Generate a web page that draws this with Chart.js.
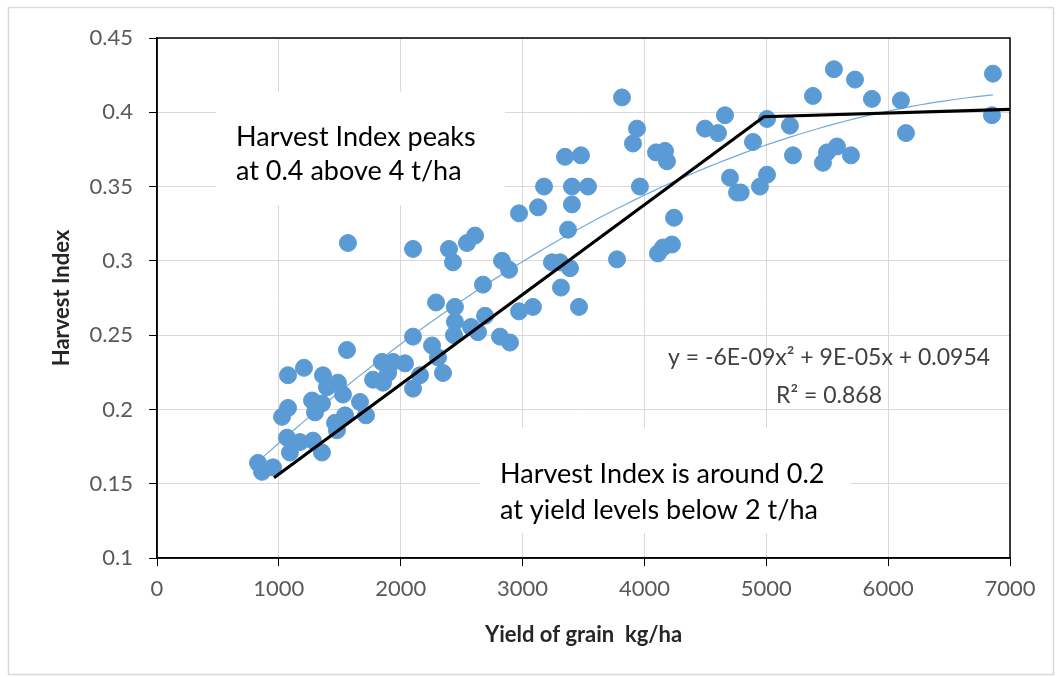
<!DOCTYPE html>
<html>
<head>
<meta charset="utf-8">
<title>Harvest Index vs Yield of grain</title>
<script src="https://cdn.jsdelivr.net/npm/chart.js@4.4.1/dist/chart.umd.min.js"></script>
<style>
  html, body { margin: 0; padding: 0; background: #ffffff; }
  #wrap { width: 1061px; height: 677px; }
</style>
</head>
<body>
<div id="wrap"><canvas id="hiChart" width="1061" height="677"></canvas></div>
<script>
// Grain yield (kg/ha) and harvest index of each plot
const yieldKg = [
  829, 862, 952, 1067, 1091, 1173, 1280, 1354, 1026, 1075,
  1075, 1206, 1272, 1297, 1354, 1362, 1395, 1485, 1526, 1543,
  1461, 1477, 1559, 1567, 1666, 1715, 1773, 1855, 1896, 1846,
  1937, 2035, 2101, 2158, 2101, 2101, 2257, 2306, 2347, 2290,
  2396, 2429, 2445, 2445, 2437, 2544, 2610, 2577, 2634, 2675,
  2692, 2831, 2889, 2815, 2897, 2971, 2971, 3085, 3127, 3176,
  3241, 3307, 3315, 3389, 3373, 3405, 3405, 3348, 3479, 3537,
  3463, 3775, 3816, 3906, 3939, 3963, 4095, 4169, 4185, 4111,
  4226, 4152, 4243, 4497, 4604, 4661, 4891, 4702, 4760, 4790,
  4948, 5006, 5006, 5194, 5219, 5383, 5465, 5498, 5580, 5555,
  5695, 5728, 5867, 6105, 6146, 6860, 6852
];
const harvestIndex = [
  0.164, 0.158, 0.161, 0.181, 0.171, 0.178, 0.179, 0.171, 0.195, 0.201,
  0.223, 0.228, 0.206, 0.198, 0.204, 0.223, 0.215, 0.218, 0.210, 0.196,
  0.191, 0.186, 0.240, 0.312, 0.205, 0.196, 0.220, 0.218, 0.2245, 0.232,
  0.232, 0.231, 0.214, 0.223, 0.249, 0.308, 0.243, 0.235, 0.2245, 0.272,
  0.308, 0.299, 0.269, 0.259, 0.250, 0.312, 0.317, 0.2555, 0.252, 0.284,
  0.263, 0.300, 0.294, 0.249, 0.245, 0.332, 0.266, 0.269, 0.336, 0.350,
  0.299, 0.299, 0.282, 0.295, 0.321, 0.338, 0.350, 0.370, 0.371, 0.350,
  0.269, 0.301, 0.410, 0.379, 0.389, 0.350, 0.373, 0.374, 0.367, 0.305,
  0.311, 0.309, 0.329, 0.389, 0.386, 0.398, 0.380, 0.356, 0.346, 0.346,
  0.350, 0.358, 0.3955, 0.391, 0.371, 0.411, 0.366, 0.373, 0.377, 0.429,
  0.371, 0.422, 0.409, 0.408, 0.386, 0.426, 0.398
];

// Hand-drawn broken line: rise to the plateau, then flat
const peakLineX = [960, 4980, 7000];
const peakLineY = [0.154, 0.397, 0.402];

// Axis ticks
const xTickValues = [0, 1000, 2000, 3000, 4000, 5000, 6000, 7000];
const xTickLabels = ['0', '1000', '2000', '3000', '4000', '5000', '6000', '7000'];
const yTickValues = [0.1, 0.15, 0.2, 0.25, 0.3, 0.35, 0.4, 0.45];
const yTickLabels = ['0.1', '0.15', '0.2', '0.25', '0.3', '0.35', '0.4', '0.45'];

// Text blocks
const noteTop = ['Harvest Index peaks', 'at 0.4 above 4 t/ha'];
const noteBottom = ['Harvest Index is around 0.2', 'at yield levels below 2 t/ha'];
const equationText = ['y = -6E-09x\u00B2 + 9E-05x + 0.0954', 'R\u00B2 = 0.868'];

// Least-squares quadratic fit y = a x^2 + b x + c
function quadraticFit(xs, ys) {
  let s0 = xs.length, s1 = 0, s2 = 0, s3 = 0, s4 = 0, t0 = 0, t1 = 0, t2 = 0;
  for (let i = 0; i < xs.length; i++) {
    const x = xs[i] / 1000, y = ys[i];
    s1 += x; s2 += x * x; s3 += x * x * x; s4 += x * x * x * x;
    t0 += y; t1 += x * y; t2 += x * x * y;
  }
  const M = [[s4, s3, s2, t2], [s3, s2, s1, t1], [s2, s1, s0, t0]];
  for (let c = 0; c < 3; c++) {
    for (let r = c + 1; r < 3; r++) {
      const f = M[r][c] / M[c][c];
      for (let k = c; k < 4; k++) M[r][k] -= f * M[c][k];
    }
  }
  const sol = [0, 0, 0];
  for (let r = 2; r >= 0; r--) {
    let v = M[r][3];
    for (let k = r + 1; k < 3; k++) v -= M[r][k] * sol[k];
    sol[r] = v / M[r][r];
  }
  // convert back from kg/1000 scaling
  return { a: sol[0] / 1e6, b: sol[1] / 1e3, c: sol[2] };
}

const fit = quadraticFit(yieldKg, harvestIndex);
const xMin = Math.min(...yieldKg), xMax = Math.max(...yieldKg);
const trendPoints = [];
const steps = 80;
for (let i = 0; i <= steps; i++) {
  const x = xMin + (xMax - xMin) * i / steps;
  trendPoints.push({ x: x, y: fit.a * x * x + fit.b * x + fit.c });
}

const scatterPoints = yieldKg.map((x, i) => ({ x: x, y: harvestIndex[i] }));
const peakPoints = peakLineX.map((x, i) => ({ x: x, y: peakLineY[i] }));

const FONT = 'Lato, "Open Sans", "DejaVu Sans", sans-serif';

// White page with a thin grey frame round the whole chart
const pageFrame = {
  id: 'pageFrame',
  beforeDraw(chart) {
    const c = chart.ctx;
    c.save();
    c.fillStyle = '#ffffff';
    c.fillRect(0, 0, chart.width, chart.height);
    c.strokeStyle = '#d9d9d9';
    c.lineWidth = 1.5;
    c.strokeRect(8.5, 7.5, 1045, 667);
    c.restore();
  }
};

// Text notes on white boxes, equation text and the black plot frame
const notes = {
  id: 'notes',
  beforeDatasetsDraw(chart) {
    const c = chart.ctx;
    const a = chart.chartArea;
    c.save();
    // note boxes hide the grid behind them
    c.fillStyle = '#ffffff';
    c.fillRect(a.left + 59, a.top + 54, 289, 113);
    c.fillRect(a.left + 323, a.top + 390, 371, 105);

    c.fillStyle = '#000000';
    c.font = '27px ' + FONT;
    c.textAlign = 'left';
    c.textBaseline = 'alphabetic';
    c.fillText(noteTop[0], a.left + 79, a.top + 108);
    c.fillText(noteTop[1], a.left + 79, a.top + 142);
    c.fillText(noteBottom[0], a.left + 343, a.top + 445);
    c.fillText(noteBottom[1], a.left + 343, a.top + 481);

    c.fillStyle = '#404040';
    c.font = '23px ' + FONT;
    c.textAlign = 'center';
    c.fillText(equationText[0], a.left + 672, a.top + 327);
    c.fillText(equationText[1], a.left + 672, a.top + 365);

    // black frame round the plot area
    c.strokeStyle = '#000000';
    c.lineWidth = 1.5;
    c.strokeRect(a.left, a.top, a.right - a.left, a.bottom - a.top);
    c.restore();
  }
};

function drawChart() {
  const ctx = document.getElementById('hiChart');
  new Chart(ctx, {
    type: 'scatter',
    data: {
      datasets: [
        {
          label: 'Harvest Index',
          data: scatterPoints,
          backgroundColor: '#5b9bd5',
          borderColor: '#5b9bd5',
          borderWidth: 1,
          pointRadius: 8.5,
          pointHoverRadius: 8.5,
          order: 3
        },
        {
          type: 'line',
          label: 'Poly. trend',
          data: trendPoints,
          borderColor: 'rgba(91,155,213,0.85)',
          borderWidth: 1.2,
          pointRadius: 0,
          fill: false,
          tension: 0,
          order: 2
        },
        {
          type: 'line',
          label: 'Peak line',
          data: peakPoints,
          borderColor: '#000000',
          borderWidth: 3.2,
          pointRadius: 0,
          fill: false,
          tension: 0,
          clip: false,
          order: 1
        }
      ]
    },
    options: {
      responsive: false,
      animation: false,
      devicePixelRatio: 1,
      layout: { padding: { left: 0, top: 38, right: 51, bottom: 0 } },
      plugins: {
        legend: { display: false },
        tooltip: { enabled: false }
      },
      scales: {
        x: {
          type: 'linear',
          min: 0,
          max: 7000,
          afterBuildTicks(scale) { scale.ticks = xTickValues.map(v => ({ value: v })); },
          afterFit(scale) { scale.height = 119; },
          ticks: {
            autoSkip: false,
            maxRotation: 0,
            color: '#595959',
            padding: 10,
            font: { family: FONT, size: 22 },
            callback: (v, i) => xTickLabels[i]
          },
          grid: { color: '#d9d9d9', lineWidth: 1, tickColor: '#000000', tickLength: 8 },
          border: { color: '#000000', width: 1.5 },
          title: {
            display: true,
            text: 'Yield of grain  kg/ha',
            color: '#262626',
            font: { family: FONT, size: 22, weight: 'bold' },
            padding: { top: 0, bottom: 29 }
          }
        },
        y: {
          type: 'linear',
          min: 0.1,
          max: 0.45,
          afterBuildTicks(scale) { scale.ticks = yTickValues.map(v => ({ value: v })); },
          afterFit(scale) { scale.width = 157; },
          ticks: {
            autoSkip: false,
            color: '#595959',
            padding: 16,
            font: { family: FONT, size: 22 },
            callback: (v, i) => yTickLabels[i]
          },
          grid: { color: '#d9d9d9', lineWidth: 1, tickColor: '#000000', tickLength: 8 },
          border: { color: '#000000', width: 1.5 },
          title: {
            display: true,
            text: 'Harvest Index',
            color: '#262626',
            font: { family: FONT, size: 22, weight: 'bold' },
            padding: { top: 49, bottom: 0 }
          }
        }
      }
    },
    plugins: [pageFrame, notes]
  });
}

Promise.all([
  document.fonts.load('22px Lato'),
  document.fonts.load('bold 22px Lato'),
  document.fonts.load('27px Lato')
]).then(drawChart, drawChart);
</script>
</body>
</html>
